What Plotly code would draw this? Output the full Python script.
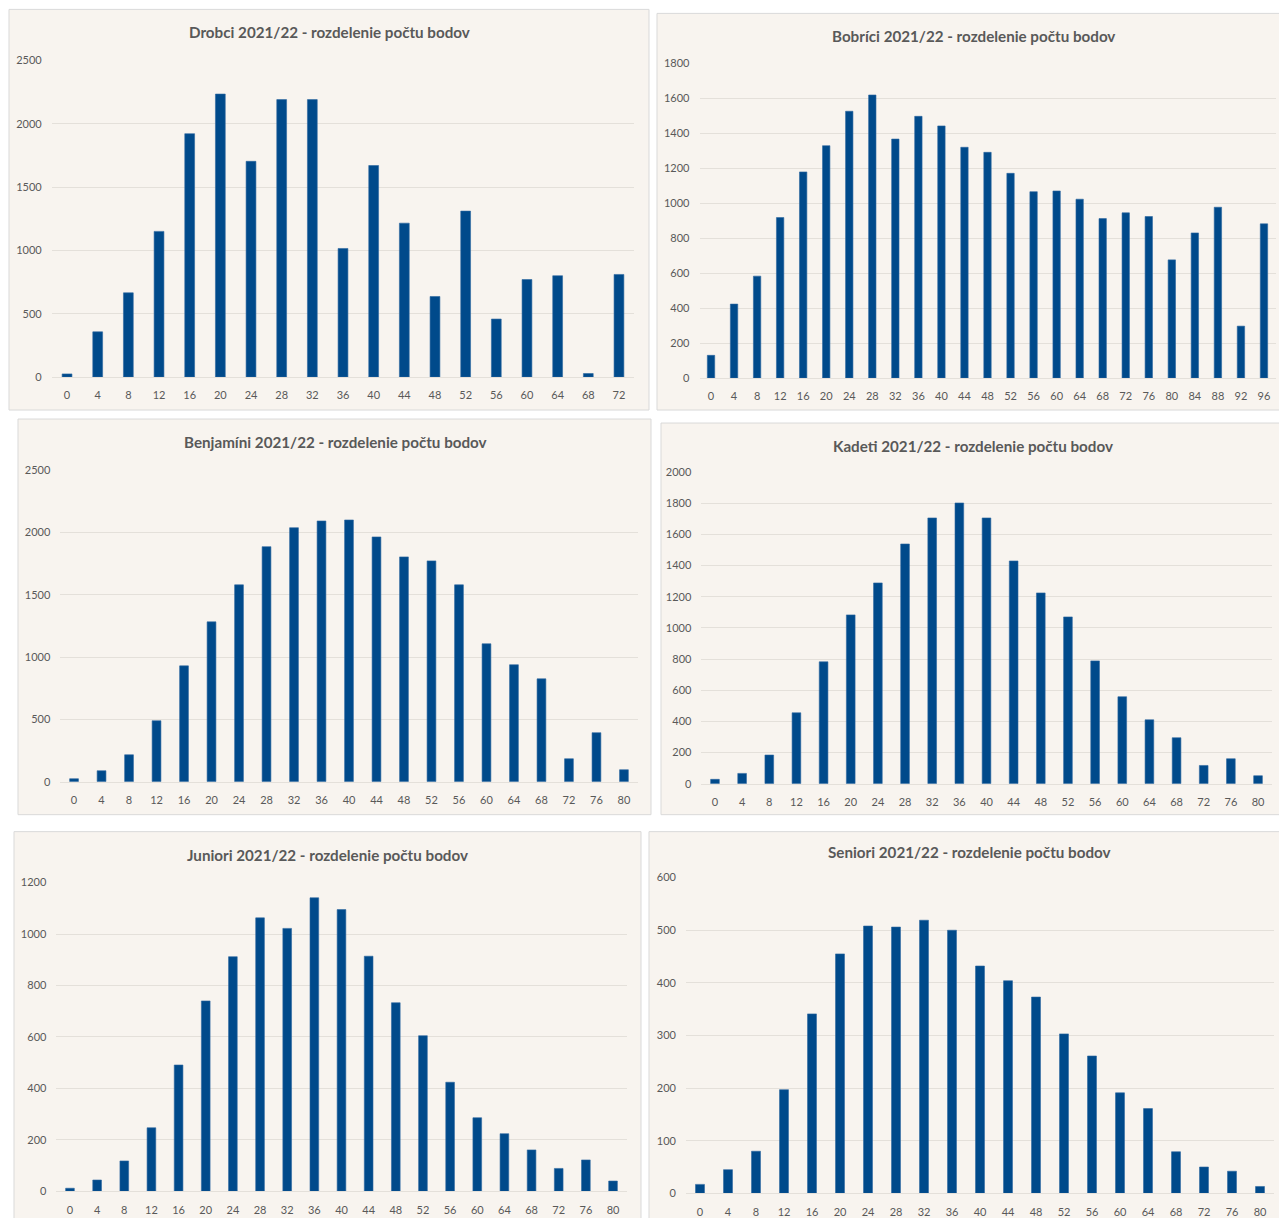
import plotly.graph_objects as go

W, H = 1279, 1218

# Score bins (points)
bins_72 = list(range(0, 73, 4))
bins_80 = list(range(0, 81, 4))
bins_96 = list(range(0, 97, 4))

# Number of contestants per score bin
drobci = [25, 357, 665, 1150, 1921, 2234, 1703, 2190, 2190, 1015, 1670, 1215, 636, 1310, 458, 770, 800, 28, 810]
bobrici = [130, 423, 583, 918, 1179, 1329, 1526, 1619, 1367, 1497, 1442, 1320, 1291, 1171, 1066, 1070,
           1023, 912, 945, 924, 676, 830, 977, 297, 882]
benjamini = [24, 88, 216, 489, 929, 1282, 1579, 1885, 2037, 2091, 2099, 1963, 1803, 1771, 1579, 1106,
             938, 825, 184, 393, 96]
kadeti = [28, 66, 184, 455, 782, 1083, 1288, 1538, 1705, 1801, 1705, 1429, 1224, 1070, 788, 558,
          410, 295, 117, 160, 51]
juniori = [12, 44, 118, 247, 491, 740, 912, 1063, 1022, 1141, 1095, 914, 733, 605, 424, 286,
           224, 161, 89, 122, 40]
seniori = [17, 45, 80, 197, 341, 455, 508, 506, 519, 500, 432, 404, 373, 303, 261, 191,
           161, 79, 50, 42, 13]

titles = [
    "Drobci 2021/22 - rozdelenie počtu bodov",
    "Bobríci 2021/22 - rozdelenie počtu bodov",
    "Benjamíni 2021/22 - rozdelenie počtu bodov",
    "Kadeti 2021/22 - rozdelenie počtu bodov",
    "Juniori 2021/22 - rozdelenie počtu bodov",
    "Seniori 2021/22 - rozdelenie počtu bodov",
]

BAR = "#004A8B"
PANEL_BG = "#F8F4EF"
PANEL_EDGE = "#D9D9D9"
GRID = "#E4E0DA"
TEXT = "#595959"
FONT = "Lato"

# (title, bins, values, y max, y step, panel box px, plot box px, title centre px)
panels = [
    (titles[0], bins_72, drobci, 2500, 500, (9, 9, 649, 410), (51.7, 60, 634.3, 377), (329, 32)),
    (titles[1], bins_96, bobrici, 1800, 200, (657, 13, 1290, 410), (699.5, 63, 1275.5, 378), (973, 36)),
    (titles[2], bins_80, benjamini, 2500, 500, (18, 419, 651, 815), (60.3, 470, 637.7, 782), (335, 442)),
    (titles[3], bins_80, kadeti, 2000, 200, (661, 423, 1290, 815), (701.4, 472, 1271.6, 784), (973, 446)),
    (titles[4], bins_80, juniori, 1200, 200, (14, 832, 641, 1240), (56.4, 883, 626.6, 1192), (327, 855)),
    (titles[5], bins_80, seniori, 600, 100, (649, 832, 1290, 1240), (686, 878, 1274, 1194), (969, 852)),
]

# The page is shown slightly squeezed vertically; these undo it so the
# pixel boxes above land where intended.
V_SCALE = 0.9894
V_OFFSET = 6.6


def px_x(x):
    return x / W


def px_y(y):
    return 1 - ((y - V_OFFSET) / V_SCALE) / H


fig = go.Figure()
shapes = []
annotations = []
layout = {}

for i, (title, bins, vals, ymax, ystep, panel, plot, tcen) in enumerate(panels, start=1):
    sfx = "" if i == 1 else str(i)
    fig.add_trace(go.Bar(
        x=[str(b) for b in bins],
        y=vals,
        marker=dict(color=BAR, line=dict(color="#2C66A0", width=0.6)),
        xaxis="x" + sfx,
        yaxis="y" + sfx,
        showlegend=False,
        hoverinfo="x+y",
    ))
    shapes.append(dict(
        type="rect", xref="paper", yref="paper", layer="below",
        x0=px_x(panel[0]), x1=px_x(panel[2]),
        y0=max(px_y(panel[3]), -0.05), y1=px_y(panel[1]),
        fillcolor=PANEL_BG, line=dict(color=PANEL_EDGE, width=1),
    ))
    layout["xaxis" + sfx] = dict(
        domain=[px_x(plot[0]), px_x(plot[2])],
        anchor="y" + sfx,
        type="category",
        showgrid=False,
        showline=True, linecolor=GRID, linewidth=1,
        ticks="", ticklabelstandoff=8,
        tickfont=dict(family=FONT, size=11, color=TEXT),
        fixedrange=True,
    )
    layout["yaxis" + sfx] = dict(
        domain=[px_y(plot[3]), px_y(plot[1])],
        anchor="x" + sfx,
        range=[0, ymax],
        tick0=0, dtick=ystep,
        showgrid=True, gridcolor=GRID, gridwidth=1,
        zeroline=False, showline=False,
        ticks="", ticklabelstandoff=9,
        tickfont=dict(family=FONT, size=11, color=TEXT),
        fixedrange=True,
    )
    annotations.append(dict(
        text="<b>" + title + "</b>", xref="paper", yref="paper",
        x=px_x(tcen[0]), y=px_y(tcen[1]), xanchor="center", yanchor="middle",
        showarrow=False, font=dict(family=FONT, size=15.2, color=TEXT),
    ))

fig.update_layout(
    width=W, height=H,
    margin=dict(l=0, r=0, t=0, b=0),
    paper_bgcolor="white",
    plot_bgcolor="rgba(0,0,0,0)",
    bargap=0.68,
    shapes=shapes,
    annotations=annotations,
    **layout,
)

fig.write_html("out.html")
